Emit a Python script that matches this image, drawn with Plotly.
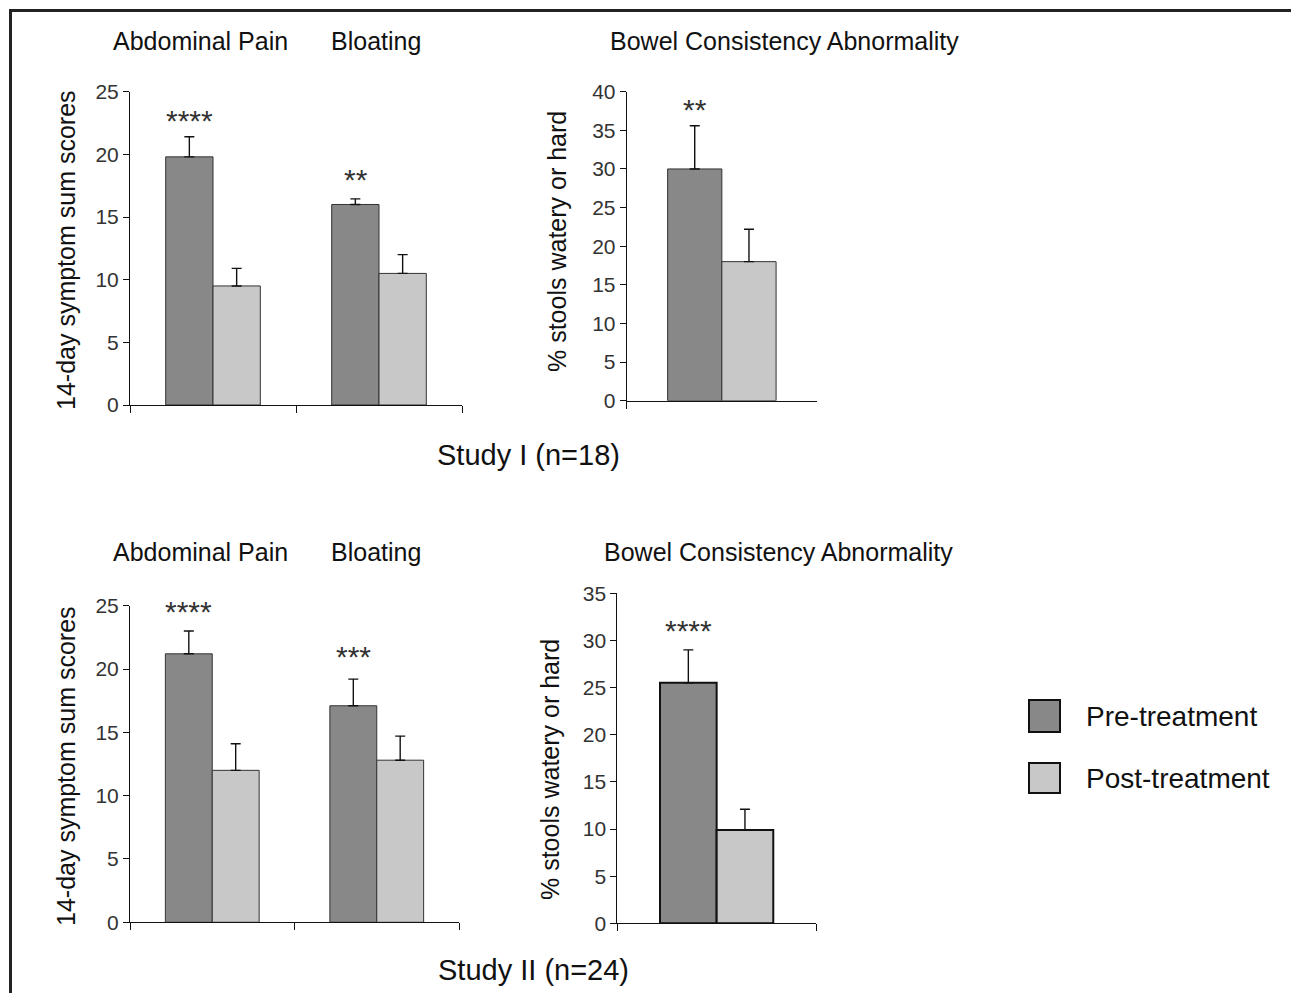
import plotly.graph_objects as go

W, H = 1291, 993
FONT = "Liberation Sans, Arial, sans-serif"

# ---------------- data ----------------
symptom_categories = ["Abdominal Pain", "Bloating"]
bowel_category = ["Bowel Consistency Abnormality"]

s1_pre = [19.8, 16.0]
s1_pre_err = [1.6, 0.45]
s1_post = [9.5, 10.5]
s1_post_err = [1.4, 1.5]
s1_sig = ["****", "**"]

s1_bowel_pre = [30.0]
s1_bowel_pre_err = [5.6]
s1_bowel_post = [18.0]
s1_bowel_post_err = [4.2]
s1_bowel_sig = ["**"]

s2_pre = [21.2, 17.1]
s2_pre_err = [1.8, 2.1]
s2_post = [12.0, 12.8]
s2_post_err = [2.1, 1.9]
s2_sig = ["****", "***"]

s2_bowel_pre = [25.5]
s2_bowel_pre_err = [3.5]
s2_bowel_post = [9.9]
s2_bowel_post_err = [2.2]
s2_bowel_sig = ["****"]

series_names = ["Pre-treatment", "Post-treatment"]
y_title_sym = "14-day symptom sum scores"
y_title_bowel = "% stools watery or hard"
study_titles = ["Study I (n=18)", "Study II (n=24)"]

PRE_COLOR = "#888888"
POST_COLOR = "#c8c8c8"


def px(x):
    return x / W


def py(y):
    return 1 - y / H


fig = go.Figure()

panels = [
    ("", symptom_categories, s1_pre, s1_pre_err, s1_post, s1_post_err, s1_sig, [0, 25],
     [px(130), px(462)], [py(405), py(91.7)], 1, [23.0, 18.3], 47),
    ("2", bowel_category, s1_bowel_pre, s1_bowel_pre_err, s1_bowel_post, s1_bowel_post_err, s1_bowel_sig, [0, 40],
     [px(626.7), px(817)], [py(400.7), py(91.7)], 1, [38.1], 54.5),
    ("3", symptom_categories, s2_pre, s2_pre_err, s2_post, s2_post_err, s2_sig, [0, 25],
     [px(130), px(459)], [py(922.3), py(605.7)], 1, [24.8, 21.3], 47.5),
    ("4", bowel_category, s2_bowel_pre, s2_bowel_pre_err, s2_bowel_post, s2_bowel_post_err, s2_bowel_sig, [0, 35],
     [px(617.3), px(816)], [py(923.3), py(593.3)], 2, [31.45], 57),
]

annotations = []
for suf, cats, pre, pre_err, post, post_err, sig, yr, xd, yd, lw, stary, bw in panels:
    xa = "x" + suf
    ya = "y" + suf
    for name, vals, errs, col in [(series_names[0], pre, pre_err, PRE_COLOR),
                                  (series_names[1], post, post_err, POST_COLOR)]:
        fig.add_trace(go.Bar(
            x=cats, y=vals, name=name, xaxis=xa, yaxis=ya,
            marker=dict(color=col, line=dict(color="#111111" if lw > 1 else "#333333", width=lw)),
            error_y=dict(type="data", symmetric=False, array=errs, arrayminus=[0] * len(errs),
                         color="#111111", thickness=1.4, width=5),
            showlegend=False,
        ))
    layout_x = dict(domain=xd, anchor=ya, type="category", range=[-0.5, len(cats) - 0.5],
                    showticklabels=False, ticks="outside", tickson="boundaries", ticklen=7,
                    tickcolor="#111111", showline=True, linecolor="#111111", linewidth=1,
                    showgrid=False, zeroline=False, fixedrange=True, automargin=False)
    layout_y = dict(domain=yd, anchor=xa, range=yr, dtick=5, ticks="outside", ticklen=6,
                    tickcolor="#111111", showline=True, linecolor="#111111", linewidth=1,
                    showgrid=False, zeroline=False, automargin=False,
                    tickfont=dict(family=FONT, size=21, color="#333333"), fixedrange=True)
    fig.update_layout(**{"xaxis" + suf: layout_x, "yaxis" + suf: layout_y})
    for c, s, ys in zip(cats, sig, stary):
        annotations.append(dict(x=c, y=ys, xref=xa, yref=ya, text=s, showarrow=False,
                                xshift=-bw / 2, yshift=-3.5, yanchor="middle",
                                font=dict(family=FONT, size=30, color="#333333")))

for (label, x, y) in [("Abdominal Pain", 200, 41), ("Bloating", 376, 41),
                      ("Bowel Consistency Abnormality", 784, 41),
                      ("Abdominal Pain", 200, 552), ("Bloating", 376, 552),
                      ("Bowel Consistency Abnormality", 778, 552)]:
    annotations.append(dict(x=px(x), y=py(y), xref="paper", yref="paper", text=label,
                            showarrow=False, xanchor="center", yanchor="middle",
                            font=dict(family=FONT, size=25, color="#111111")))

for label, x, y in [(study_titles[0], 528, 455), (study_titles[1], 533, 970)]:
    annotations.append(dict(x=px(x), y=py(y), xref="paper", yref="paper", text=label,
                            showarrow=False, xanchor="center", yanchor="middle",
                            font=dict(family=FONT, size=29, color="#111111")))

for label, x, y in [(y_title_sym, 66, 250), (y_title_bowel, 557, 242),
                    (y_title_sym, 66, 766), (y_title_bowel, 550, 770)]:
    annotations.append(dict(x=px(x), y=py(y), xref="paper", yref="paper", text=label,
                            showarrow=False, xanchor="center", yanchor="middle", textangle=-90,
                            font=dict(family=FONT, size=25, color="#111111")))

shapes = []
for name, col, y0, y1 in [(series_names[0], PRE_COLOR, 700, 732), (series_names[1], POST_COLOR, 763, 793)]:
    shapes.append(dict(type="rect", xref="paper", yref="paper", x0=px(1029), x1=px(1060),
                       y0=py(y1), y1=py(y0), fillcolor=col, line=dict(color="#111111", width=2)))
    annotations.append(dict(x=px(1084), y=py((y0 + y1) / 2), xref="paper", yref="paper", text=name,
                            showarrow=False, xanchor="left", yanchor="middle",
                            font=dict(family=FONT, size=28, color="#111111")))

shapes.append(dict(type="line", xref="paper", yref="paper", x0=px(9), x1=1.0, y0=py(10.5), y1=py(10.5),
                   line=dict(color="#222222", width=3)))
shapes.append(dict(type="line", xref="paper", yref="paper", x0=px(10.5), x1=px(10.5), y0=py(9), y1=0.0,
                   line=dict(color="#222222", width=3)))

fig.update_layout(
    width=W, height=H, autosize=False,
    margin=dict(l=0, r=0, t=0, b=0, pad=0, autoexpand=False),
    paper_bgcolor="white", plot_bgcolor="white",
    barmode="group", bargap=0.43, bargroupgap=0,
    annotations=annotations, shapes=shapes,
    font=dict(family=FONT), showlegend=False,
)

post = (
    "document.documentElement.style.margin='0';"
    "document.body.style.margin='0';"
    "document.body.style.padding='0';"
    "document.documentElement.style.overflow='hidden';"
    "var gd=document.getElementById('{plot_id}');"
    "gd.style.position='fixed';gd.style.top='0px';gd.style.left='0px';"
)

fig.write_html("out.html", include_plotlyjs=True, config={"displayModeBar": False},
               post_script=post)
